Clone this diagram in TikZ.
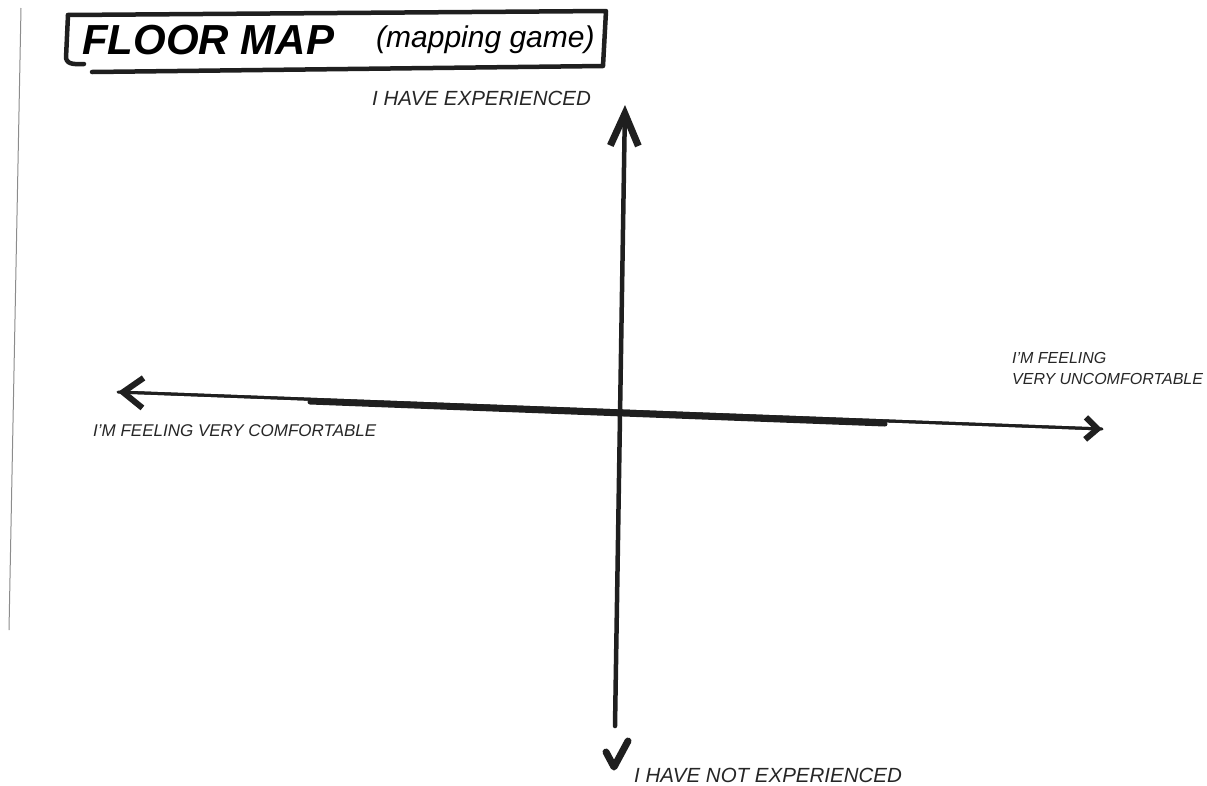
\documentclass[tikz,border=0pt]{standalone}
\usepackage{fontspec}
\setmainfont{Liberation Sans}
\usetikzlibrary{arrows.meta}
\tikzset{
  ink/.style={draw=black!88, line cap=round, line join=round},
  axis/.style={ink, line width=3.6pt},
  axisbold/.style={ink, line width=5pt},
  lbl/.style={inner sep=0pt, text=black!85, font=\fontsize{17}{21}\selectfont\itshape, align=left},
}
\begin{document}
\begin{tikzpicture}[x=1pt,y=-1pt]
\useasboundingbox (0,0) rectangle (1207,785);
% scan edge
\draw[black!45, line width=1pt] (21,8) -- (9,630);
% title box
\draw[ink, line width=4.5pt] (68,15) -- (606,11) -- (603,66) -- (92,72);
\draw[ink, line width=4.5pt] (68,15) -- (66,58) to[out=-80,in=180] (84,64);
\node[inner sep=0pt, anchor=west, font=\fontsize{42}{46}\selectfont\bfseries\itshape] (title) at (82,40) {FLOOR MAP};
\node[inner sep=0pt, anchor=west, font=\fontsize{30}{34}\selectfont\itshape] (sub) at (376,40) {(mapping game)};
% axes coordinates
\coordinate (top) at (625,105);
\coordinate (bottom) at (615,726);
\coordinate (left) at (118,392);
\coordinate (right) at (1102,429);
\coordinate (thickA) at (310,402);
\coordinate (thickB) at (885,424);
% axes
\draw[axis, line width=4.5pt, -{Straight Barb[length=32pt,width=28pt,line width=7pt]}] (bottom) -- (top);
\draw[axis, line width=3pt, -{Straight Barb[length=20pt,width=30pt,line width=6pt]}] (right) -- (left);
\draw[axis, line width=3pt, -{Straight Barb[length=12pt,width=22pt,line width=6pt]}] (left) -- (right);
\draw[axisbold] (thickA) -- (thickB);
% labels
\node[lbl, font=\fontsize{20.5}{24}\selectfont\itshape, anchor=west] (exp) at (372,98) {I HAVE EXPERIENCED};
\node[lbl, anchor=west] (comf) at (93,431) {I'M FEELING VERY COMFORTABLE};
\node[lbl, font=\fontsize{16}{21}\selectfont\itshape, anchor=west] (uncomf) at (1012,368) {I'M FEELING\\VERY UNCOMFORTABLE};
\node[lbl, font=\fontsize{20.5}{24}\selectfont\itshape, anchor=west] (notexp) at (634,775) {I HAVE NOT EXPERIENCED};
% check mark
\draw[ink, line width=7pt] (606,752) -- (614,767) -- (628,741);
\end{tikzpicture}
\end{document}
